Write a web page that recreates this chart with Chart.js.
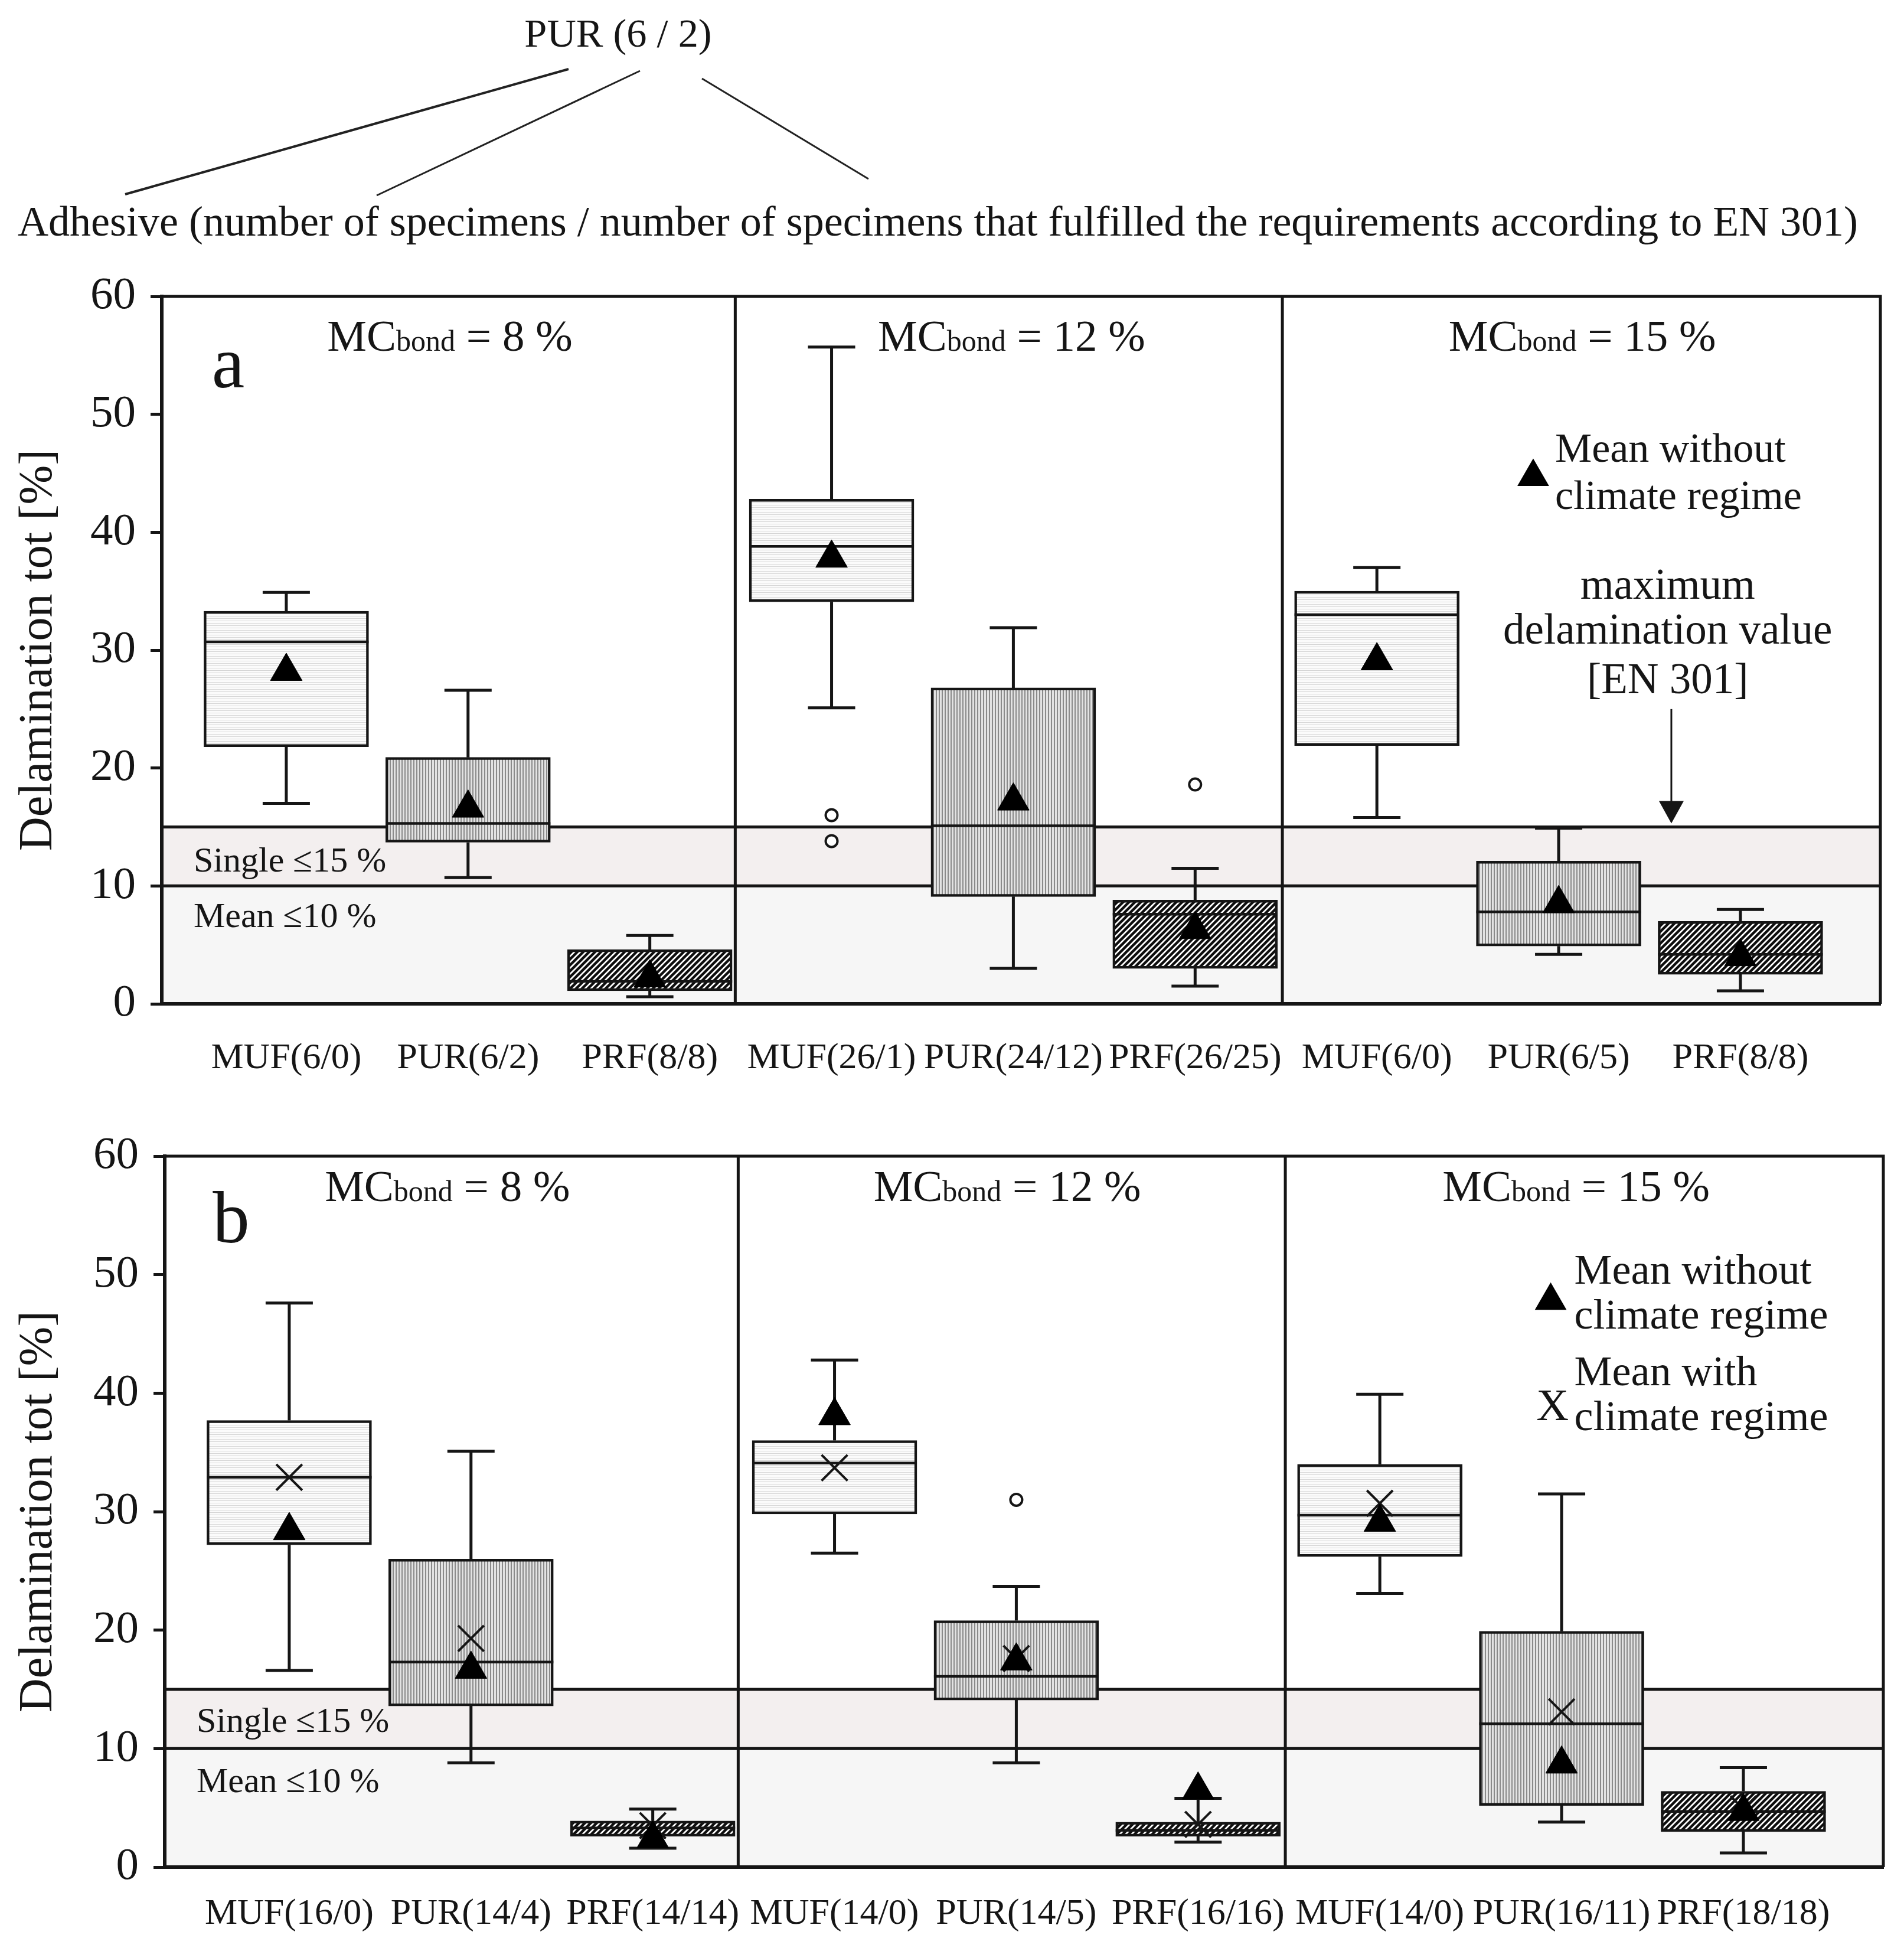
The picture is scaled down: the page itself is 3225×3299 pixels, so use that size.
<!DOCTYPE html>
<html><head><meta charset="utf-8">
<script src="https://cdn.jsdelivr.net/npm/chart.js@4.4.1/dist/chart.umd.min.js"></script>
<style>
html,body{margin:0;padding:0;background:#fff;}
#wrap{position:relative;width:3225px;height:3299px;overflow:hidden;font-family:'Liberation Serif','Times New Roman',serif;color:#151515;background:#fff;}
canvas{position:absolute;left:0;}
.t{position:absolute;white-space:nowrap;line-height:1;}
</style></head><body>
<div id="wrap">
<svg width="3225" height="400" style="position:absolute;left:0;top:0">
<line x1="963" y1="117" x2="212" y2="329" stroke="#222" stroke-width="4"/>
<line x1="1084" y1="120" x2="638" y2="331" stroke="#222" stroke-width="3"/>
<line x1="1189" y1="133" x2="1471" y2="303" stroke="#222" stroke-width="3"/>
</svg>
<div class="t" id="topLabel" style="left:1047px;top:56px;transform:translate(-50%,-50%);">PUR (6 / 2)</div>
<div class="t" id="topCaption" style="left:30px;top:375px;transform:translateY(-50%);">Adhesive (number of specimens / number of specimens that fulfilled the requirements according to EN 301)</div>
<canvas id="ca" width="3225" height="1458" style="top:400px;width:3225px;height:1458px"></canvas>
<canvas id="cb" width="3225" height="1441" style="top:1858px;width:3225px;height:1441px"></canvas>
</div>
<script>
// ---------- DATA ----------
const labelsA = ['MUF(6/0)','PUR(6/2)','PRF(8/8)','MUF(26/1)','PUR(24/12)','PRF(26/25)','MUF(6/0)','PUR(6/5)','PRF(8/8)'];
const minA  = [17.0, 10.7, 0.6, 25.1, 3.0, 1.5, 15.8, 4.2, 1.1];
const q1A   = [21.8, 13.7, 1.1, 34.1, 9.1, 3.0, 21.9, 4.9, 2.5];
const medA  = [30.7, 15.3, 1.9, 38.8, 15.1, 7.6, 33.0, 7.8, 4.2];
const q3A   = [33.3, 20.9, 4.6, 42.8, 26.8, 8.8, 35.0, 12.1, 7.0];
const maxA  = [34.9, 26.6, 5.8, 55.7, 31.9, 11.5, 37.0, 14.9, 8.0];
const meanA = [28.2, 16.6, 2.2, 37.8, 17.2, 6.3, 29.1, 8.5, 4.0];
const outlierAx = [3, 3, 5];
const outlierAy = [16.0, 13.8, 18.6];

const labelsB = ['MUF(16/0)','PUR(14/4)','PRF(14/14)','MUF(14/0)','PUR(14/5)','PRF(16/16)','MUF(14/0)','PUR(16/11)','PRF(18/18)'];
const minB  = [16.6, 8.8, 1.6, 26.5, 8.8, 2.1, 23.1, 3.8, 1.2];
const q1B   = [27.2, 13.6, 2.6, 29.8, 14.1, 2.6, 26.2, 5.2, 3.0];
const medB  = [32.9, 17.3, 3.3, 34.1, 16.1, 3.1, 29.7, 12.1, 4.7];
const q3B   = [37.7, 26.0, 3.9, 36.0, 20.8, 3.8, 34.0, 19.9, 6.4];
const maxB  = [47.6, 35.1, 4.9, 42.8, 23.7, 5.8, 39.9, 31.5, 8.4];
const meanB = [28.4, 16.7, 2.4, 38.1, 17.4, 6.5, 29.1, 8.7, 4.7];
const meanClimateB = [32.9, 19.3, 3.5, 33.7, 17.6, 3.6, 30.7, 13.1, 4.9];
const outlierBx = [4];
const outlierBy = [31.0];

const yTicks = [0, 10, 20, 30, 40, 50, 60];
const limits = [10, 15];            // EN 301: mean <= 10 %, single <= 15 %
const moistureGroups = ['8', '12', '15'];
const groupSplits = [2.47, 5.48];

// ---------- STYLE ----------
const FONT = "'Liberation Serif','Times New Roman',serif";
Chart.defaults.font.family = FONT;
Chart.defaults.color = '#151515';
const INK = '#151515';

// fit the caption text to the reference width
(function(){
  const m = document.createElement('canvas').getContext('2d');
  const cap = document.getElementById('topCaption');
  m.font = '60px ' + FONT;
  const w = m.measureText(cap.textContent).width;
  const fs = 60 * 3117 / w;
  cap.style.fontSize = fs.toFixed(1) + 'px';
  document.getElementById('topLabel').style.fontSize = (fs * 0.95).toFixed(1) + 'px';
})();

function makePattern(kind){
  const c = document.createElement('canvas');
  const g = c.getContext('2d');
  if (kind === 'h') {
    c.width = 8; c.height = 4;
    g.fillStyle = '#fbfbfb'; g.fillRect(0,0,8,4);
    g.fillStyle = '#d6d6d6'; g.fillRect(0,3,8,1);
  } else if (kind === 'v') {
    c.width = 5; c.height = 8;
    g.fillStyle = '#e3e3e3'; g.fillRect(0,0,5,8);
    g.fillStyle = '#8a8a8a'; g.fillRect(0,0,2,8);
  } else {
    c.width = 10; c.height = 10;
    g.fillStyle = '#ffffff'; g.fillRect(0,0,10,10);
    g.strokeStyle = '#0d0d0d'; g.lineWidth = 4.4; g.lineCap = 'square';
    g.beginPath();
    g.moveTo(-5,15); g.lineTo(15,-5);
    g.moveTo(-5,5); g.lineTo(5,-5);
    g.moveTo(5,15); g.lineTo(15,5);
    g.stroke();
  }
  return g.createPattern(c, 'repeat');
}
const patterns = [makePattern('h'), makePattern('v'), makePattern('d')];

function tri(ctx, x, y, r){
  ctx.beginPath();
  for (let k = 0; k < 3; k++) {
    const a = k * 2 * Math.PI / 3;
    const px = x + Math.sin(a) * r, py = y - Math.cos(a) * r;
    if (k === 0) ctx.moveTo(px, py); else ctx.lineTo(px, py);
  }
  ctx.closePath();
  ctx.fillStyle = '#000';
  ctx.fill();
}

function buildPanel(id, P){
  const boxData = P.labels.map((_, i) => ({x: i, y: [P.q1[i], P.q3[i]]}));
  const datasets = [
    {type: 'scatter', label: 'mean', data: P.mean.map((v, i) => ({x: i, y: v})),
     pointStyle: 'triangle', pointRadius: 31, backgroundColor: '#000', borderColor: '#000', borderWidth: 1, order: 0, clip: false},
    {type: 'scatter', label: 'outliers', data: P.outX.map((xv, k) => ({x: xv, y: P.outY[k]})),
     pointStyle: 'circle', pointRadius: 10, backgroundColor: '#fff', borderColor: INK, borderWidth: 4, order: 2, clip: false},
    {type: 'bar', label: 'box', data: boxData,
     backgroundColor: P.labels.map((_, i) => patterns[i % 3]),
     borderColor: INK, borderWidth: 4.5, borderSkipped: false, barThickness: 279, order: 5}
  ];
  if (P.meanClim) {
    datasets.splice(1, 0, {type: 'scatter', label: 'meanClimate', data: P.meanClim.map((v, i) => ({x: i, y: v})),
      pointStyle: 'crossRot', pointRadius: 31, borderColor: INK, borderWidth: 4, backgroundColor: INK, order: 1, clip: false});
  }

  const deco = {
    id: 'deco',
    beforeDraw(chart){
      const {ctx, chartArea: a, scales: {y}} = chart;
      ctx.save();
      const y0 = y.getPixelForValue(0), y10 = y.getPixelForValue(limits[0]), y15 = y.getPixelForValue(limits[1]);
      ctx.fillStyle = '#f6f6f6'; ctx.fillRect(a.left, y10, a.right - a.left, y0 - y10);
      ctx.fillStyle = '#f3efef'; ctx.fillRect(a.left, y15, a.right - a.left, y10 - y15);
      ctx.strokeStyle = INK; ctx.lineWidth = 5;
      for (const v of limits) {
        const py = y.getPixelForValue(v);
        ctx.beginPath(); ctx.moveTo(a.left, py); ctx.lineTo(a.right, py); ctx.stroke();
      }
      ctx.restore();
    },
    afterDatasetDraw(chart, args){
      if (args.meta.type !== 'bar') return;
      const {ctx, scales: {y}} = chart;
      ctx.save();
      ctx.strokeStyle = INK;
      args.meta.data.forEach((el, i) => {
        const half = el.width / 2;
        ctx.lineWidth = 4.5;
        const pm = y.getPixelForValue(P.med[i]);
        ctx.beginPath(); ctx.moveTo(el.x - half, pm); ctx.lineTo(el.x + half, pm); ctx.stroke();
        ctx.lineWidth = 5;
        const pq3 = y.getPixelForValue(P.q3[i]), pmax = y.getPixelForValue(P.max[i]);
        const pq1 = y.getPixelForValue(P.q1[i]), pmin = y.getPixelForValue(P.min[i]);
        ctx.beginPath();
        ctx.moveTo(el.x, pq3); ctx.lineTo(el.x, pmax);
        ctx.moveTo(el.x - 40, pmax); ctx.lineTo(el.x + 40, pmax);
        ctx.moveTo(el.x, pq1); ctx.lineTo(el.x, pmin);
        ctx.moveTo(el.x - 40, pmin); ctx.lineTo(el.x + 40, pmin);
        ctx.stroke();
      });
      ctx.restore();
    },
    afterDraw(chart){
      const {ctx, chartArea: a, scales: {x, y}} = chart;
      ctx.save();
      ctx.strokeStyle = INK; ctx.lineWidth = 5;
      ctx.beginPath();
      ctx.moveTo(a.left, a.top); ctx.lineTo(a.right, a.top); ctx.lineTo(a.right, a.bottom);
      for (const s of groupSplits) {
        const px = x.getPixelForValue(s);
        ctx.moveTo(px, a.top); ctx.lineTo(px, a.bottom);
      }
      ctx.stroke();

      ctx.fillStyle = INK;
      ctx.textBaseline = 'alphabetic';
      P.mcX.forEach((cx, k) => {
        const parts = [['MC', '75px ' + FONT], ['bond', '50px ' + FONT], [' = ' + moistureGroups[k] + ' %', '75px ' + FONT]];
        let total = 0;
        parts.forEach(pt => { ctx.font = pt[1]; total += ctx.measureText(pt[0]).width; });
        let px = x.getPixelForValue(cx) - total / 2;
        const py = y.getPixelForValue(P.mcY);
        ctx.textAlign = 'left';
        parts.forEach(pt => { ctx.font = pt[1]; ctx.fillText(pt[0], px, py); px += ctx.measureText(pt[0]).width; });
      });
      ctx.font = '125px ' + FONT; ctx.textAlign = 'center';
      ctx.fillText(P.letter, x.getPixelForValue(P.letterPos[0]), y.getPixelForValue(P.letterPos[1]));
      ctx.font = '60px ' + FONT; ctx.textAlign = 'left'; ctx.textBaseline = 'middle';
      ctx.fillText('Single \u226415 %', a.left + 54, y.getPixelForValue(P.bandTextY[0]));
      ctx.fillText('Mean \u226410 %', a.left + 54, y.getPixelForValue(P.bandTextY[1]));
      tri(ctx, x.getPixelForValue(P.legTri[0]), y.getPixelForValue(P.legTri[1]), 31);
      ctx.fillStyle = INK;
      P.legText.forEach(t => { ctx.textAlign = t[3] || 'left'; ctx.font = (t[4] || P.legSize) + 'px ' + FONT; ctx.fillText(t[0], x.getPixelForValue(t[1]), y.getPixelForValue(t[2])); });
      if (P.arrow) {
        const ax = x.getPixelForValue(P.arrow[0]);
        const yTop = y.getPixelForValue(P.arrow[1]), yTip = y.getPixelForValue(P.arrow[2]);
        ctx.lineWidth = 3; ctx.beginPath(); ctx.moveTo(ax, yTop); ctx.lineTo(ax, yTip - 30); ctx.stroke();
        ctx.beginPath(); ctx.moveTo(ax - 21, yTip - 38); ctx.lineTo(ax + 21, yTip - 38); ctx.lineTo(ax, yTip); ctx.closePath(); ctx.fill();
      }
      ctx.restore();
    }
  };

  return new Chart(document.getElementById(id), {
    type: 'bar',
    data: {datasets},
    options: {
      responsive: false, animation: false, devicePixelRatio: 1, events: [],
      layout: {padding: {top: P.padTop, right: P.padRight, left: 0, bottom: 0}},
      plugins: {legend: {display: false}, tooltip: {enabled: false}},
      scales: {
        x: {
          type: 'linear', min: -0.685, max: 8.77, offset: false,
          afterBuildTicks: s => { s.ticks = P.labels.map((_, i) => ({value: i})); },
          afterFit: s => { s.height = P.xAxisH; },
          ticks: {autoSkip: false, maxRotation: 0, minRotation: 0, padding: P.xPad,
                  font: {size: 62, family: FONT}, color: INK,
                  callback: v => P.labels[v]},
          grid: {display: false, drawTicks: false},
          border: {display: true, color: INK, width: 6}
        },
        y: {
          type: 'linear', min: 0, max: 60,
          afterBuildTicks: s => { s.ticks = yTicks.map(v => ({value: v})); },
          afterFit: s => { s.width = P.yAxisW; },
          ticks: {padding: 25, font: {size: 77, family: FONT}, color: INK},
          grid: {display: true, drawOnChartArea: false, drawTicks: true, tickLength: 19, color: INK, lineWidth: 5},
          border: {display: true, color: INK, width: 6},
          title: {display: true, text: 'Delamination tot [%]', color: INK,
                  font: {size: 80, family: FONT}, padding: {top: 18, bottom: 0}}
        }
      }
    },
    plugins: [deco]
  });
}

buildPanel('ca', {
  labels: labelsA, min: minA, q1: q1A, med: medA, q3: q3A, max: maxA, mean: meanA,
  outX: outlierAx, outY: outlierAy,
  padTop: 102, padRight: 40, yAxisW: 274, xAxisH: 158, xPad: 56,
  mcX: [0.90, 3.99, 7.13], mcY: 55.4,
  letter: 'a', letterPos: [-0.32, 52.3],
  bandTextY: [12.0, 7.3],
  legTri: [6.86, 44.7], legSize: 70,
  legText: [['Mean without', 6.98, 46.9], ['climate regime', 6.98, 42.9],
            ['maximum', 7.60, 35.3, 'center', 73], ['delamination value', 7.60, 31.5, 'center', 73], ['[EN 301]', 7.60, 27.3, 'center', 73]],
  arrow: [7.62, 25.0, 15.3]
});

buildPanel('cb', {
  labels: labelsB, min: minB, q1: q1B, med: medB, q3: q3B, max: maxB, mean: meanB, meanClim: meanClimateB,
  outX: outlierBx, outY: outlierBy,
  padTop: 100, padRight: 28, yAxisW: 279, xAxisH: 137, xPad: 43,
  mcX: [0.87, 3.95, 7.08], mcY: 56.2,
  letter: 'b', letterPos: [-0.32, 52.7],
  bandTextY: [12.2, 7.1],
  legTri: [6.94, 47.8], legSize: 72,
  legText: [['Mean without', 7.07, 50.2], ['climate regime', 7.07, 46.4],
            ['X', 6.95, 38.7, 'center', 76], ['Mean with', 7.07, 41.6], ['climate regime', 7.07, 37.8]],
  arrow: null
});
</script>
</body></html>
